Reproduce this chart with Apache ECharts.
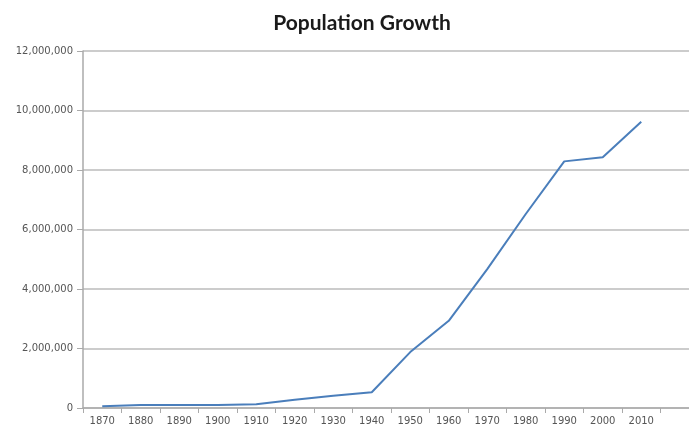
<!DOCTYPE html>
<html><head><meta charset="utf-8">
<script src="https://cdn.jsdelivr.net/npm/echarts@6/dist/echarts.min.js"></script>
<style>html,body{margin:0;padding:0;background:#fff;overflow:hidden}#c{width:689px;height:436px}</style>
</head><body><div id="c"></div>
<script>
const years = ['1870','1880','1890','1900','1910','1920','1930','1940','1950','1960','1970','1980','1990','2000','2010',''];
const population = [60000,100000,100000,100000,125000,280000,410000,530000,1880000,2930000,4670000,6520000,8290000,8430000,9620000,null];
const yTicks = {min:0, max:12000000, interval:2000000};

const chart = echarts.init(document.getElementById('c'), null, {renderer:'canvas'});
chart.setOption({
  animation:false,
  backgroundColor:'#fff',
  title:{text:'Population Growth', left:357, top:8, textAlign:'center',
    textStyle:{fontFamily:'Lato', fontWeight:'bold', fontSize:21, color:'#1a1a1a'}},
  grid:{left:83, top:51, width:616, bottom:28, containLabel:false, outerBoundsMode:'none'},
  xAxis:{type:'category', data:years, boundaryGap:true,
    axisLine:{lineStyle:{color:'#aaa', width:1.5}},
    axisTick:{show:true, alignWithLabel:false, length:5, lineStyle:{color:'#aaa'}},
    axisLabel:{color:'#555', fontSize:10, fontFamily:'DejaVu Sans', margin:8},
    splitLine:{show:false}},
  yAxis:{type:'value', min:yTicks.min, max:yTicks.max, interval:yTicks.interval,
    axisLine:{show:true, lineStyle:{color:'#aaa', width:1.5}},
    axisTick:{show:true, length:6, lineStyle:{color:'#aaa'}},
    axisLabel:{color:'#555', fontSize:10, fontFamily:'DejaVu Sans', margin:10,
      formatter:v=>v.toLocaleString('en-US')},
    splitLine:{lineStyle:{color:'#bbb', width:1.5}}},
  series:[{type:'line', data:population, showSymbol:false, connectNulls:false,
    lineStyle:{color:'#4a7ebb', width:2}, itemStyle:{color:'#4a7ebb'}}]
});
</script></body></html>
